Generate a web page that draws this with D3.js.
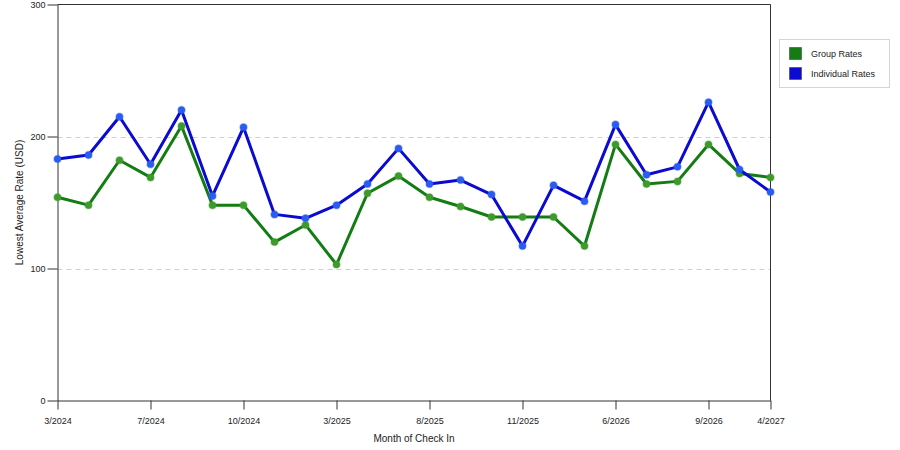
<!DOCTYPE html>
<html>
<head>
<meta charset="utf-8">
<script src="https://cdn.jsdelivr.net/npm/d3@7.9.0/dist/d3.min.js"></script>
<style>
  body { margin: 0; background: #fff; }
  svg { font-family: "Liberation Sans", Arial, sans-serif; }
</style>
</head>
<body>
<div id="chart"></div>
<script>
const months = ['3/2024', '4/2024', '5/2024', '7/2024', '8/2024', '9/2024', '10/2024', '11/2024',
  '1/2025', '3/2025', '5/2025', '6/2025', '8/2025', '9/2025', '10/2025', '11/2025',
  '12/2025', '3/2026', '6/2026', '7/2026', '8/2026', '9/2026', '1/2027', '4/2027'];
const shownTicks = ['3/2024', '7/2024', '10/2024', '3/2025', '8/2025', '11/2025', '6/2026', '9/2026', '4/2027'];
const groupRates = [154, 148, 182, 169, 208, 148, 148, 120, 133, 103, 157, 170,
  154, 147, 139, 139, 139, 117, 194, 164, 166, 194, 172, 169];
const individualRates = [183, 186, 215, 179, 220, 155, 207, 141, 138, 148, 164, 191,
  164, 167, 156, 117, 163, 151, 209, 171, 177, 226, 175, 158];
const yTicks = [0, 100, 200, 300];
const series = [
  { name: 'Group Rates', values: groupRates, color: '#137d13', marker: '#3f9a2e' },
  { name: 'Individual Rates', values: individualRates, color: '#0a0ad0', marker: '#2a5cf0' },
];

const width = 900, height = 450;
const plot = { left: 57.5, right: 770.5, top: 4.5, bottom: 400.5 };

const svg = d3.select('#chart').append('svg')
  .attr('width', width)
  .attr('height', height);

const x = d3.scalePoint().domain(months).range([plot.left, plot.right]);
const y = d3.scaleLinear().domain([0, 300]).range([plot.bottom, plot.top]);

// dashed gridlines
svg.append('g')
  .selectAll('line')
  .data(yTicks.filter(d => d > 0 && d < 300))
  .join('line')
  .attr('x1', plot.left).attr('x2', plot.right)
  .attr('y1', d => Math.round(y(d)) + 0.5).attr('y2', d => Math.round(y(d)) + 0.5)
  .attr('stroke', '#d0d0d0')
  .attr('stroke-dasharray', '5,4');

// frame top / right
svg.append('path')
  .attr('d', `M${plot.left},${plot.top}H${plot.right}V${plot.bottom}`)
  .attr('fill', 'none')
  .attr('stroke', '#333');

const xAxis = svg.append('g')
  .attr('transform', `translate(0,${plot.bottom})`)
  .call(d3.axisBottom(x).tickValues(shownTicks).tickSize(9).tickPadding(8).tickSizeOuter(0));
const yAxis = svg.append('g')
  .attr('transform', `translate(${plot.left},0)`)
  .call(d3.axisLeft(y).tickValues(yTicks).tickSize(10).tickPadding(2).tickSizeOuter(0));

[xAxis, yAxis].forEach(g => {
  g.selectAll('path, line').attr('stroke', '#333');
  g.selectAll('text').attr('fill', '#222').style('font-size', '9px')
    .style('font-family', '"Liberation Sans", Arial, sans-serif');
});

svg.append('text')
  .attr('x', (plot.left + plot.right) / 2)
  .attr('y', 442)
  .attr('text-anchor', 'middle')
  .style('font-size', '10px')
  .attr('fill', '#222')
  .text('Month of Check In');

svg.append('text')
  .attr('transform', `translate(22.5,${(plot.top + plot.bottom) / 2}) rotate(-90)`)
  .attr('text-anchor', 'middle')
  .style('font-size', '10px')
  .attr('fill', '#222')
  .text('Lowest Average Rate (USD)');

const line = d3.line()
  .x((d, i) => x(months[i]))
  .y(d => y(d));

series.forEach(s => {
  const g = svg.append('g');
  g.append('path')
    .datum(s.values)
    .attr('d', line)
    .attr('fill', 'none')
    .attr('stroke', s.color)
    .attr('stroke-width', 3)
    .attr('stroke-linejoin', 'round');
  g.selectAll('circle')
    .data(s.values)
    .join('circle')
    .attr('cx', (d, i) => x(months[i]))
    .attr('cy', d => y(d))
    .attr('r', 3.5)
    .attr('fill', s.marker)
    .attr('stroke', s.marker)
    .attr('stroke-opacity', 0.4)
    .attr('stroke-width', 1.5);
});

// legend
const legend = svg.append('g');
legend.append('rect')
  .attr('x', 779.5).attr('y', 39.5)
  .attr('width', 110).attr('height', 48)
  .attr('fill', '#fff')
  .attr('stroke', '#d4d4d4');

const items = legend.selectAll('g.item')
  .data(series)
  .join('g')
  .attr('class', 'item')
  .attr('transform', (d, i) => `translate(789,${47 + i * 20})`);
items.append('rect')
  .attr('x', 0.5).attr('y', 0.5)
  .attr('width', 12).attr('height', 12)
  .attr('fill', d => d.color)
  .attr('stroke', '#333')
  .attr('stroke-opacity', 0.5);
items.append('text')
  .attr('x', 22).attr('y', 10)
  .style('font-size', '9px')
  .attr('fill', '#222')
  .text(d => d.name);
</script>
</body>
</html>
